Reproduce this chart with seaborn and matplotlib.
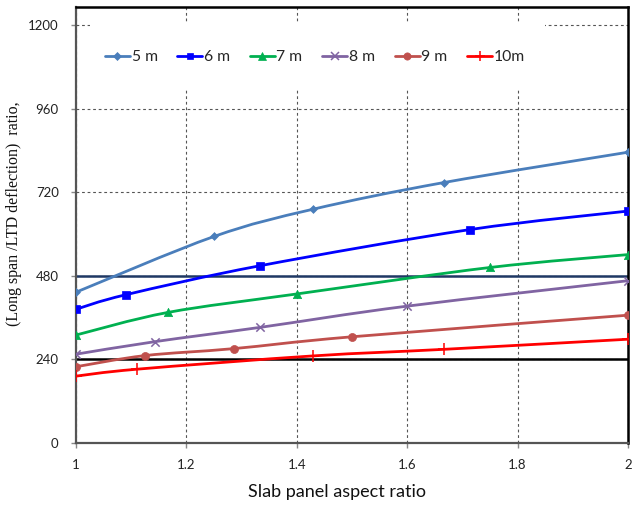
import numpy as np
import pandas as pd
import matplotlib
matplotlib.use("Agg")
import matplotlib.pyplot as plt
from matplotlib.path import Path
from matplotlib.patches import PathPatch, Rectangle
from matplotlib.lines import Line2D
import seaborn as sns

# Long-span / long-term deflection ratio against slab panel aspect ratio
x_5m = [1.0, 1.25, 1.4286, 1.6667, 2.0]
y_5m = [433, 593, 671, 748, 835]
x_6m = [1.0, 1.0909, 1.3333, 1.7143, 2.0]
y_6m = [384, 426, 509, 613, 666]
x_7m = [1.0, 1.1667, 1.4, 1.75, 2.0]
y_7m = [310, 375, 428, 504, 541]
x_8m = [1.0, 1.1429, 1.3333, 1.6, 2.0]
y_8m = [255, 291, 332, 393, 466]
x_9m = [1.0, 1.125, 1.2857, 1.5, 2.0]
y_9m = [219, 251, 271, 305, 367]
x_10m = [1.0, 1.1111, 1.4286, 1.6667, 2.0]
y_10m = [192, 212, 250, 269, 298]

series_labels = ["5 m", "6 m", "7 m", "8 m", "9 m", "10m"]
limit_lines = [480, 240]
x_ticks = [1, 1.2, 1.4, 1.6, 1.8, 2]
x_tick_labels = ["1", "1.2", "1.4", "1.6", "1.8", "2"]
y_ticks = [0, 240, 480, 720, 960, 1200]

series = [
    (x_5m, y_5m, "#4A7EBB", "D", 4.0, True),
    (x_6m, y_6m, "#0000FF", "s", 5.5, True),
    (x_7m, y_7m, "#00B050", "^", 6.0, True),
    (x_8m, y_8m, "#8064A2", "x", 6.0, False),
    (x_9m, y_9m, "#C0504D", "o", 5.8, True),
    (x_10m, y_10m, "#FF0000", "+", 8.0, False),
]

sns.set_theme(style="white")
plt.rcParams["font.family"] = ["Lato", "DejaVu Sans"]

fig = plt.figure(figsize=(6.35, 5.08), dpi=100)
ax = fig.add_axes([76 / 635, 65 / 508, 552 / 635, 436 / 508])


def smooth_path(xs, ys):
    """Catmull-Rom style cubic Bezier through the points (spreadsheet smoothing)."""
    p = np.column_stack([xs, ys]).astype(float)
    ext = np.vstack([p[0], p, p[-1]])
    verts = [p[0]]
    codes = [Path.MOVETO]
    for i in range(len(p) - 1):
        a, b, c, d = ext[i], ext[i + 1], ext[i + 2], ext[i + 3]
        c1 = b + (c - a) / 6.0
        c2 = c - (d - b) / 6.0
        verts += [c1, c2, c]
        codes += [Path.CURVE4] * 3
    return Path(verts, codes)


# reference limit lines
ax.axhline(limit_lines[0], color="#1F3864", lw=1.8, zorder=2.2)
ax.axhline(limit_lines[1], color="black", lw=1.8, zorder=2.2)

handles = []
for (xs, ys, col, mk, ms, filled), lab in zip(series, series_labels):
    ax.add_patch(PathPatch(smooth_path(xs, ys), facecolor="none", edgecolor=col,
                           lw=2.0, zorder=3, capstyle="round", joinstyle="round"))
    df = pd.DataFrame({"x": xs, "y": ys})
    if filled:
        sns.scatterplot(data=df, x="x", y="y", ax=ax, marker=mk, s=ms ** 2,
                        color=col, edgecolor=col, linewidth=0.5, zorder=4, legend=False)
    else:
        sns.scatterplot(data=df, x="x", y="y", ax=ax, marker=mk, s=ms ** 2,
                        color=col, linewidth=1.1, zorder=4, legend=False)
    handles.append(Line2D([], [], color=col, lw=2.0, marker=mk, markersize=ms * 0.9,
                          markeredgewidth=1.1 if not filled else 0.5,
                          markerfacecolor=col, markeredgecolor=col, label=lab))

ax.set_xlim(1, 2)
ax.set_ylim(0, 1252)
ax.set_xticks(x_ticks)
ax.set_xticklabels(x_tick_labels)
ax.set_yticks(y_ticks)

ax.grid(True, which="major", color="#555555", lw=0.8, linestyle=(0, (2.5, 2.5)), zorder=1)
ax.set_axisbelow(True)

for side in ["left", "bottom"]:
    ax.spines[side].set_color("#555555")
    ax.spines[side].set_linewidth(1.6)
for side in ["right", "top"]:
    ax.spines[side].set_color("black")
    ax.spines[side].set_linewidth(1.8)

ax.tick_params(axis="both", which="major", direction="out", length=3.5, width=1.0,
               color="#888888", labelsize=9.5, labelcolor="#222222",
               bottom=True, left=True)
ax.tick_params(axis="y", pad=9)
ax.tick_params(axis="x", pad=8)

ax.set_xlabel("Slab panel aspect ratio", fontsize=13, color="#111111")
ax.xaxis.set_label_coords(0.473, -0.093)
ax.xaxis.label.set_va("top")

ax.set_ylabel("(Long span /LTD deflection)  ratio,", fontsize=11.5,
              family=["Liberation Serif", "DejaVu Serif"], color="#111111")
ax.yaxis.set_label_coords(-0.098, 0.525)

# white box behind the legend, masking the grid there
ax.add_patch(Rectangle((0.025, 0.81), 0.825, 0.156, transform=ax.transAxes,
                       facecolor="white", edgecolor="none", zorder=2.1))
leg = ax.legend(handles=handles, ncol=6, loc="center",
                bbox_to_anchor=(0.433, 0.885), frameon=False, fontsize=11.3,
                handlelength=1.6, handletextpad=0.1, columnspacing=1.25)
leg.set_zorder(5)

fig.savefig("out.png", dpi=100)
